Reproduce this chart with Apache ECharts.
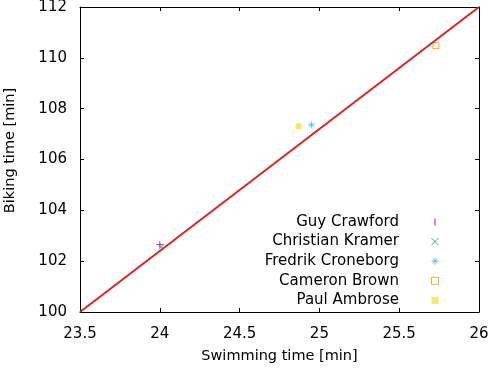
<!DOCTYPE html>
<html>
<head>
<meta charset="utf-8">
<script src="https://cdn.jsdelivr.net/npm/echarts@6/dist/echarts.min.js"></script>
<style>
  html, body { margin: 0; padding: 0; background: #fff; }
  #chart { width: 488px; height: 368px; }
</style>
</head>
<body>
<div id="chart"></div>
<script>
// athletes: [swimming time, biking time] in minutes
const names = ['Guy Crawford', 'Christian Kramer', 'Fredrik Croneborg', 'Cameron Brown', 'Paul Ambrose']
const swimTimes = [24.0, 24.01, 24.95, 25.73, 24.87]
const bikeTimes = [102.65, 102.56, 107.36, 110.48, 107.31]
// reference line end points
const lineX = [23.5, 26]
const lineY = [100, 112]

const colors = ['#9400d3', '#009e73', '#56b4e9', '#e69f00', '#f0e442']
const symbols = [
  'path://M0,-1L0,1M-1,0L1,0',
  'path://M-1,-1L1,1M-1,1L1,-1',
  'path://M0,-1L0,1M-1,0L1,0M-0.7,-0.7L0.7,0.7M-0.7,0.7L0.7,-0.7',
  'path://M0,0L1,0L1,1L0,1Z',
  'path://M0,0L1,0L1,1L0,1Z'
]
const filled = [false, false, false, false, true]
const sizes = [7, 5, 7, 6, 6]
const legendIcons = [
  'path://M0,0h1v6h-1z',
  'path://M-1,-1L1,1M-1,1L1,-1',
  'path://M0,-1L0,1M-1,0L1,0M-0.7,-0.7L0.7,0.7M-0.7,0.7L0.7,-0.7',
  'path://M0,0L1,0L1,1L0,1Z',
  'path://M0,0L1,0L1,1L0,1Z'
]

const font = 'DejaVu Sans'
const chart = echarts.init(document.getElementById('chart'))

const axisCommon = {
  axisLine: { show: true, onZero: false, lineStyle: { color: '#000', width: 1 } },
  axisTick: { show: true, inside: true, length: 4, lineStyle: { color: '#000' } },
  splitLine: { show: false }
}

const series = names.map((n, i) => ({
  name: n,
  type: 'scatter',
  data: [[swimTimes[i], bikeTimes[i]]],
  symbol: symbols[i],
  symbolSize: sizes[i],
  itemStyle: filled[i]
    ? { color: colors[i], borderWidth: 0 }
    : { color: 'none', borderColor: colors[i], borderWidth: 1 },
  z: 2
}))

series.push({
  type: 'line',
  data: lineX.map((x, i) => [x, lineY[i]]),
  showSymbol: false,
  lineStyle: { color: '#e41a1c', width: 1.8 },
  z: 3,
  silent: true
})

chart.setOption({
  animation: false,
  backgroundColor: '#fff',
  textStyle: { fontFamily: font },
  grid: { left: 80, right: 9, top: 7, bottom: 56, containLabel: false, outerBoundsMode: 'none' },
  legend: {
    orient: 'vertical',
    align: 'right',
    right: 47,
    top: 214.5,
    padding: 0,
    itemWidth: 62,
    itemHeight: 7,
    itemGap: 4.6,
    selectedMode: false,
    textStyle: { fontFamily: font, fontSize: 15, color: '#000', lineHeight: 15 },
    data: names.map((n, i) => ({
      name: n,
      icon: legendIcons[i],
      itemStyle: (filled[i] || i === 0)
        ? { color: colors[i], borderWidth: 0 }
        : { color: 'none', borderColor: colors[i], borderWidth: 1 }
    }))
  },
  xAxis: [
    {
      ...axisCommon,
      type: 'value',
      min: 23.5,
      max: 26,
      interval: 0.5,
      name: 'Swimming time [min]',
      nameLocation: 'middle',
      nameGap: 37,
      nameTextStyle: { fontFamily: font, fontSize: 14.5, color: '#000' },
      axisLabel: { color: '#000', fontFamily: font, fontSize: 15, margin: 14.5 }
    },
    {
      ...axisCommon,
      type: 'value',
      position: 'top',
      min: 23.5,
      max: 26,
      interval: 0.5,
      axisLabel: { show: false }
    }
  ],
  yAxis: [
    {
      ...axisCommon,
      type: 'value',
      min: 100,
      max: 112,
      interval: 2,
      name: 'Biking time [min]',
      nameLocation: 'middle',
      nameGap: 62,
      nameTextStyle: { fontFamily: font, fontSize: 14.5, color: '#000', padding: [0, 0, 0, 18] },
      axisLabel: { color: '#000', fontFamily: font, fontSize: 15, margin: 13 }
    },
    {
      ...axisCommon,
      type: 'value',
      position: 'right',
      min: 100,
      max: 112,
      interval: 2,
      axisLabel: { show: false }
    }
  ],
  series
})
</script>
</body>
</html>
